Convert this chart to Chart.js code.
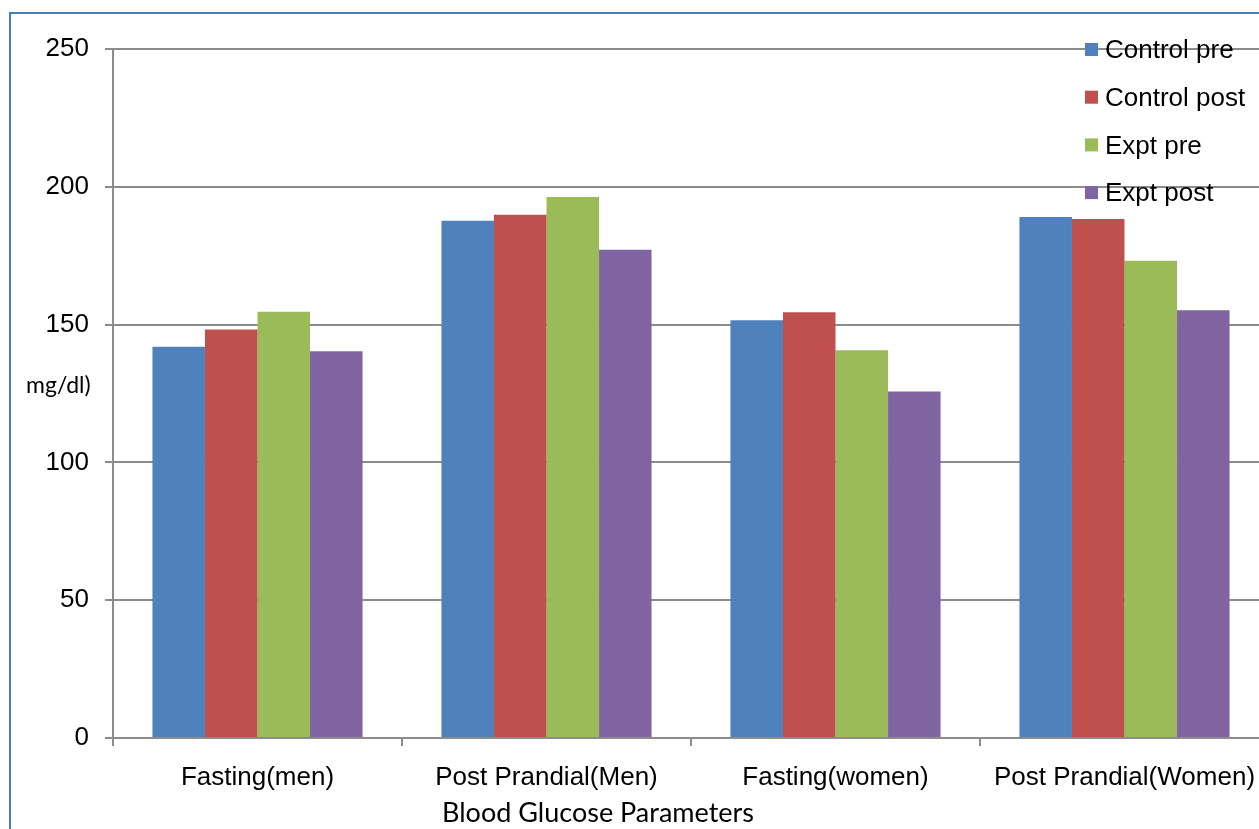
<!DOCTYPE html>
<html>
<head>
<meta charset="utf-8">
<title>Blood Glucose Parameters</title>
<script src="https://cdn.jsdelivr.net/npm/chart.js@4/dist/chart.umd.min.js"></script>
<style>
  html, body { margin: 0; padding: 0; background: #ffffff; overflow: hidden; width: 1259px; height: 829px; }
  #frame { position: absolute; left: 9px; top: 12px; width: 1400px; height: 900px;
           border-left: 2px solid #4a7ebb; border-top: 2px solid #4a7ebb; box-sizing: border-box; }
  #wrap { position: absolute; left: 0; top: 0; width: 1300px; height: 829px; }
</style>
</head>
<body>
<div id="frame"></div>
<div id="wrap"><canvas id="chart" width="1300" height="829"></canvas></div>
<script>
// Blood glucose (mg/dl) before and after, control vs experimental groups
const categories = ['Fasting(men)', 'Post Prandial(Men)', 'Fasting(women)', 'Post Prandial(Women)'];
const seriesNames = ['Control pre', 'Control post', 'Expt pre', 'Expt post'];
const controlPre  = [142.0, 187.7, 151.6, 189.0];
const controlPost = [148.2, 189.9, 154.5, 188.3];
const exptPre     = [154.7, 196.3, 140.7, 173.2];
const exptPost    = [140.3, 177.2, 125.7, 155.2];
const yTicks = [0, 50, 100, 150, 200, 250];

const colors = ['#4F81BD', '#C0504D', '#9BBB59', '#8064A2'];
const seriesValues = [controlPre, controlPost, exptPre, exptPost];

const datasets = seriesNames.map((name, i) => ({
  label: name,
  data: seriesValues[i],
  backgroundColor: colors[i],
  borderWidth: 0,
  categoryPercentage: 0.727,
  barPercentage: 1.0
}));

const labelFont = { family: '"Liberation Sans", Arial, sans-serif', size: 26 };
const titleFamily = 'Lato, "Open Sans", sans-serif';
const gridColor = '#8c8c8c';

// Legend stacked in the top-right corner, drawn over the plot
const cornerLegend = {
  id: 'cornerLegend',
  afterDraw(chart) {
    const ctx = chart.ctx;
    ctx.save();
    ctx.font = `${labelFont.size}px ${labelFont.family}`;
    ctx.textBaseline = 'middle';
    ctx.textAlign = 'left';
    chart.data.datasets.forEach((ds, i) => {
      const y = 50 + i * 47.7;
      ctx.fillStyle = ds.backgroundColor;
      ctx.fillRect(1085, y - 7, 13, 13);
      ctx.fillStyle = '#000000';
      ctx.fillText(ds.label, 1105, y + 1);
    });
    ctx.restore();
  }
};

// Axis captions: horizontal y caption and an offset x caption
const axisCaptions = {
  id: 'axisCaptions',
  afterDraw(chart) {
    const ctx = chart.ctx;
    ctx.save();
    ctx.fillStyle = '#000000';
    ctx.textBaseline = 'alphabetic';
    ctx.font = `23px ${titleFamily}`;
    ctx.textAlign = 'left';
    ctx.fillText('mg/dl)', 26, 393);
    ctx.font = `27px ${titleFamily}`;
    ctx.textAlign = 'center';
    ctx.fillText('Blood Glucose Parameters', 598, 822);
    ctx.restore();
  }
};

new Chart(document.getElementById('chart'), {
  type: 'bar',
  data: { labels: categories, datasets },
  options: {
    responsive: false,
    animation: false,
    devicePixelRatio: 1,
    layout: { padding: { top: 49, right: 31, bottom: 0, left: 0 } },
    plugins: {
      legend: { display: false },
      tooltip: { enabled: false }
    },
    scales: {
      x: {
        offset: true,
        grid: { offset: true, drawOnChartArea: false, drawTicks: true, tickLength: 8, color: gridColor, lineWidth: 2 },
        border: { display: true, color: gridColor, width: 2 },
        ticks: { color: '#000000', font: labelFont, padding: 16, maxRotation: 0, autoSkip: false },
        afterFit(scale) { scale.height = 829 - 738; }
      },
      y: {
        min: 0,
        max: 250,
        afterBuildTicks(scale) { scale.ticks = yTicks.map(v => ({ value: v })); },
        grid: { color: gridColor, lineWidth: 2, tickLength: 8, drawTicks: true },
        border: { display: true, color: gridColor, width: 2 },
        ticks: { color: '#000000', font: labelFont, padding: 16 },
        afterFit(scale) { scale.width = 113; }
      }
    }
  },
  plugins: [cornerLegend, axisCaptions]
});
</script>
</body>
</html>
